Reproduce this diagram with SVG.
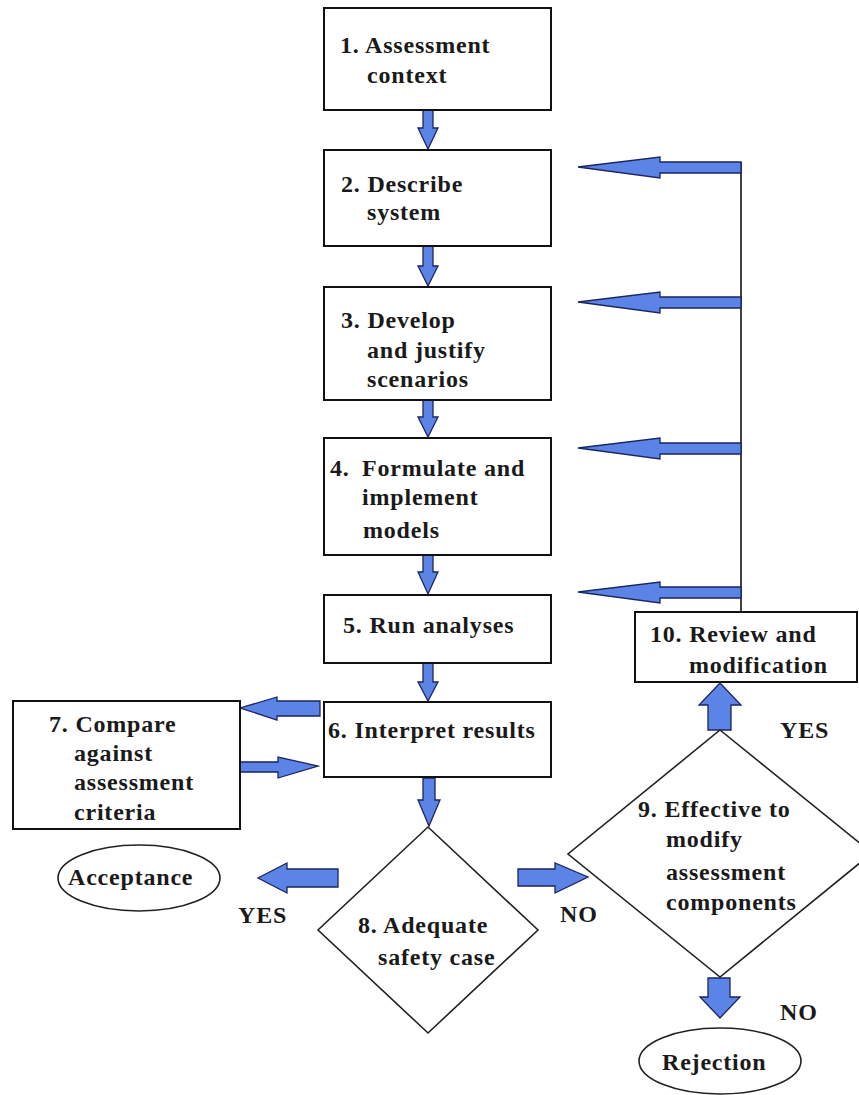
<svg xmlns="http://www.w3.org/2000/svg" width="859" height="1095" viewBox="0 0 859 1095">
<style>
  .box{fill:#fff;stroke:#111;stroke-width:2}
  .dia{fill:#fff;stroke:#222;stroke-width:1.6}
  .arr{fill:#5b84e6;stroke:#1b2560;stroke-width:1.3;stroke-linejoin:miter}
  .line{fill:none;stroke:#111;stroke-width:1.6}
  text{font-family:"Liberation Serif","Times New Roman",serif;font-weight:bold;font-size:24px;fill:#1a1a1a;letter-spacing:0.8px}
</style>
<rect width="859" height="1095" fill="#fff"/>
<g id="connectors">
  <polyline class="line" points="741,162 741,612"/>
  <!-- feedback arrows -->
  <polygon class="arr" points="741,162 660,162 660,157 578,167 660,178 660,173 741,173"/>
  <polygon class="arr" points="741,297 660,297 660,292 578,302 660,313 660,308 741,308"/>
  <polygon class="arr" points="741,443 660,443 660,438 578,448 660,459 660,454 741,454"/>
  <polygon class="arr" points="741,587 660,587 660,582 578,592 660,603 660,598 741,598"/>
  <!-- down arrows in main column -->
  <polygon class="arr" points="423,108 433,108 433,128 438,128 428,149 418,128 423,128"/>
  <polygon class="arr" points="423,246 433,246 433,266 438,266 428,286 418,266 423,266"/>
  <polygon class="arr" points="423,400 433,400 433,417 438,417 428,437 418,417 423,417"/>
  <polygon class="arr" points="423,555 433,555 433,572 438,572 428,594 418,572 423,572"/>
  <polygon class="arr" points="423,663 433,663 433,682 438,682 428,701 418,682 423,682"/>
  <polygon class="arr" points="423,778 435,778 435,800 440,800 429,826 418,800 423,800"/>
  <!-- 6 <-> 7 -->
  <polygon class="arr" points="320,701 277,701 277,697 240,708 277,720 277,716 320,716"/>
  <polygon class="arr" points="237,762 278,762 278,757 318,766 278,778 278,772 237,772"/>
  <!-- 8 -> acceptance / 8 -> 9 -->
  <polygon class="arr" points="338,869 287,869 287,863 258,878 287,893 287,887 338,887"/>
  <polygon class="arr" points="518,869 555,869 555,863 588,877 555,893 555,886 518,886"/>
  <!-- 9 -> 10 / 9 -> rejection -->
  <polygon class="arr" points="708,730 731,730 731,705 741,705 720,683 699,705 708,705"/>
  <polygon class="arr" points="708,978 730,978 730,997 740,997 720,1018 700,997 708,997"/>
</g>
<g id="n1"><rect class="box" x="324" y="8" width="227" height="102"/>
  <text x="340" y="53">1. Assessment</text><text x="367" y="83">context</text></g>
<g id="n2"><rect class="box" x="324" y="150" width="227" height="96"/>
  <text x="341" y="192">2. Describe</text><text x="367" y="220">system</text></g>
<g id="n3"><rect class="box" x="324" y="287" width="227" height="113"/>
  <text x="341" y="328">3. Develop</text><text x="367" y="358">and justify</text><text x="367" y="387">scenarios</text></g>
<g id="n4"><rect class="box" x="324" y="438" width="227" height="117"/>
  <text y="476"><tspan x="330">4.</tspan><tspan x="362">Formulate and</tspan></text><text x="362" y="505">implement</text><text x="363" y="538">models</text></g>
<g id="n5"><rect class="box" x="324" y="595" width="227" height="68"/>
  <text x="343" y="633">5. Run analyses</text></g>
<g id="n6"><rect class="box" x="324" y="702" width="227" height="75"/>
  <text x="328" y="738">6. Interpret results</text></g>
<g id="n7"><rect class="box" x="13" y="701" width="227" height="128"/>
  <text x="49" y="732">7. Compare</text><text x="74" y="761">against</text><text x="74" y="790">assessment</text><text x="74" y="820">criteria</text></g>
<g id="n8"><polygon class="dia" points="428,827 538,930 428,1033 318,930"/>
  <text x="358" y="933">8. Adequate</text><text x="378" y="965">safety case</text></g>
<g id="n9"><polygon class="dia" points="720,730 872,853 720,977 568,854"/>
  <text x="638" y="817">9. Effective to</text><text x="666" y="847">modify</text><text x="666" y="880">assessment</text><text x="666" y="910">components</text></g>
<g id="n10"><rect class="box" x="635" y="612" width="222" height="70"/>
  <text x="650" y="642">10. Review and</text><text x="689" y="673">modification</text></g>
<g id="acceptance"><ellipse class="dia" cx="139" cy="878" rx="81" ry="33"/>
  <text x="68" y="885">Acceptance</text></g>
<g id="rejection"><ellipse class="dia" cx="720" cy="1061" rx="81" ry="33"/>
  <text x="662" y="1070">Rejection</text></g>
<g id="labels">
  <text x="780" y="738">YES</text>
  <text x="238" y="923">YES</text>
  <text x="560" y="922">NO</text>
  <text x="780" y="1020">NO</text>
</g>
</svg>
